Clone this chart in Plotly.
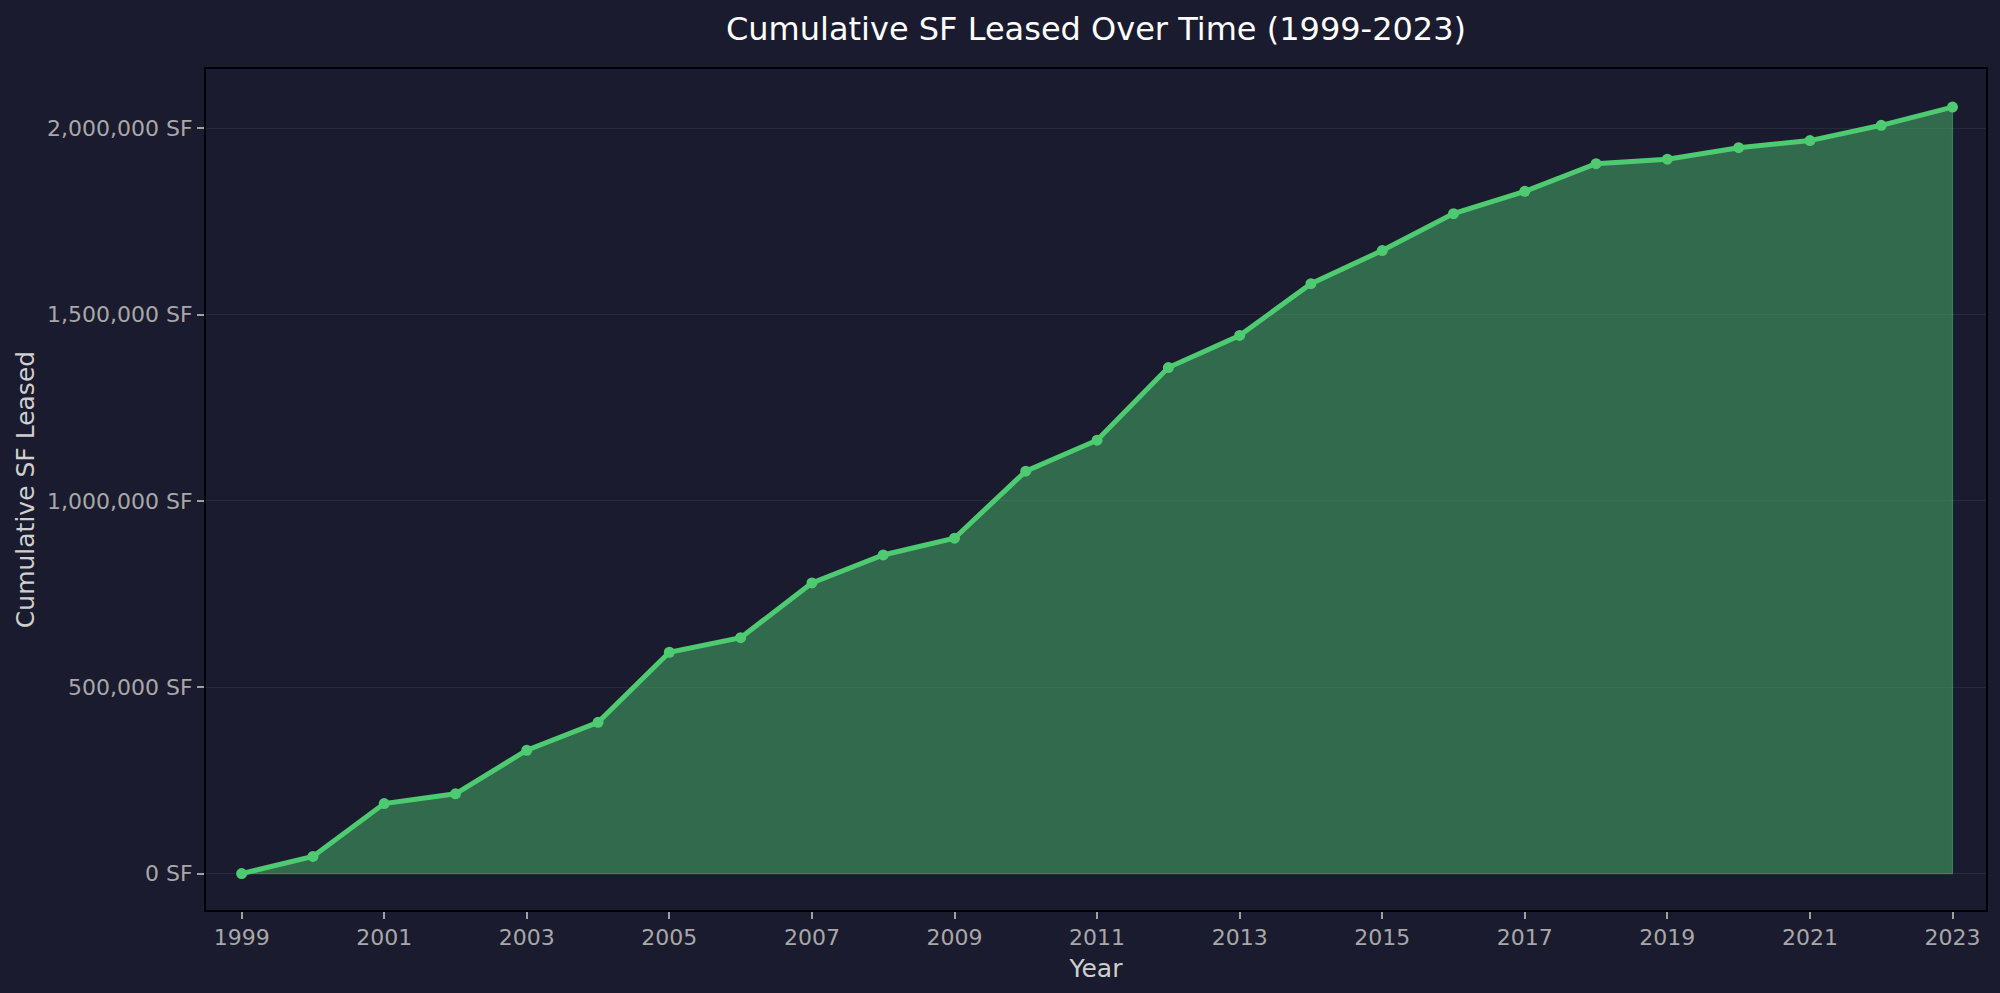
import plotly.graph_objects as go

years = list(range(1999, 2024))
cumulative_sf = [0, 46000, 188000, 214000, 331000, 406000, 594000, 633000, 780000,
                 855000, 900000, 1080000, 1163000, 1358000, 1444000, 1583000, 1672000,
                 1771000, 1831000, 1905000, 1917000, 1948000, 1967000, 2008000, 2057000]
x_ticks = list(range(1999, 2024, 2))
y_ticks = [0, 500000, 1000000, 1500000, 2000000]
y_tick_labels = [f"{v:,} SF" for v in y_ticks]

BG = "#1a1b2e"
LINE = "#4ecb71"
FILL = "rgba(78,203,113,0.45)"
FONT = "DejaVu Sans"

fig = go.Figure()
# filled area (closed polygon built from the data arrays)
fig.add_trace(go.Scatter(
    x=years + [years[-1], years[0]],
    y=cumulative_sf + [0, 0],
    fill="toself", fillcolor=FILL, mode="lines",
    line=dict(color=FILL, width=1.2), hoverinfo="skip", showlegend=False))
fig.add_trace(go.Scatter(
    x=years, y=cumulative_sf, mode="lines+markers",
    line=dict(color=LINE, width=5),
    marker=dict(color=LINE, size=11),
    showlegend=False))

fig.update_layout(
    width=2000, height=993,
    paper_bgcolor=BG, plot_bgcolor=BG,
    margin=dict(l=206, r=14, t=69, b=83, autoexpand=False),
    font=dict(family=FONT),
    title=dict(text="Cumulative SF Leased Over Time (1999-2023)",
               x=(206 + 1986) / 2 / 2000, xanchor="center",
               y=1 - 29 / 993, yanchor="middle", yref="container",
               font=dict(family=FONT, size=32, color="#ffffff")),
    xaxis=dict(
        range=[1998.5, 2023.47], tickmode="array", tickvals=x_ticks,
        ticktext=[str(t) for t in x_ticks],
        showgrid=False, zeroline=False,
        showline=True, linecolor="#000000", linewidth=2, mirror=True,
        ticks="outside", ticklen=7, tickwidth=1.5, tickcolor="#a0a0a0",
        tickfont=dict(family=FONT, size=22, color="#a8a8a8"),
        title=dict(text="Year", standoff=10,
                   font=dict(family=FONT, size=25, color="#cfcfcf"))),
    yaxis=dict(
        range=[-97700, 2159100], tickmode="array", tickvals=y_ticks,
        ticktext=y_tick_labels,
        showgrid=True, gridcolor="#29293b", gridwidth=1.3, zeroline=False,
        showline=True, linecolor="#000000", linewidth=2, mirror=True,
        ticks="outside", ticklen=7, tickwidth=1.5, tickcolor="#a0a0a0",
        tickfont=dict(family=FONT, size=22, color="#a8a8a8"),
        title=dict(text="Cumulative SF Leased", standoff=5,
                   font=dict(family=FONT, size=25, color="#cfcfcf"))),
)

fig.write_html("out.html")
